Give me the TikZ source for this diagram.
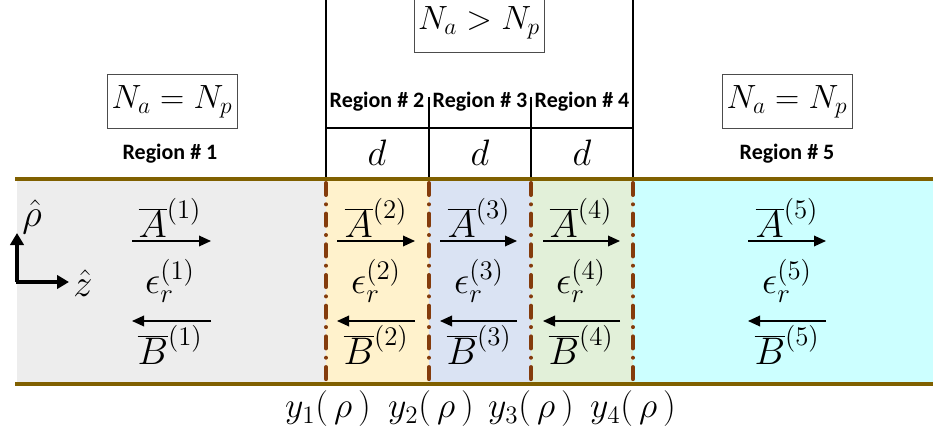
\RequirePackage{fix-cm}
\documentclass[tikz,border=0pt]{standalone}
\usepackage{fontspec}
\newfontfamily\regfont{Carlito}
\usetikzlibrary{arrows.meta}
\definecolor{rgray}{HTML}{EDEDED}
\definecolor{ryellow}{HTML}{FFF2CC}
\definecolor{rblue}{HTML}{DAE3F3}
\definecolor{rgreen}{HTML}{E2F0D9}
\definecolor{rcyan}{HTML}{CCFFFF}
\definecolor{bandcol}{HTML}{806000}
\definecolor{ifacecol}{HTML}{843C0C}
\newcommand{\fldm}[2]{\scalebox{#1}{$#2$}}
\begin{document}
\begin{tikzpicture}[x=0.75pt,y=-0.75pt,
  band/.style={draw=bandcol,line width=3pt},
  iface/.style={draw=ifacecol,line width=3pt,line cap=round,dash pattern=on 9pt off 7pt on 0.01pt off 7pt},
  struct/.style={draw=black,line width=1.5pt},
  eqbox/.style={draw=black!70,line width=0.7pt,minimum width=97.5pt,minimum height=41pt,inner sep=0pt,font=\fontsize{24}{28}\selectfont},
  reglabel/.style={font=\regfont\bfseries\fontsize{16.5}{18}\selectfont,inner sep=0pt},
  dlabel/.style={font=\fontsize{24}{28}\selectfont,inner sep=0pt},
  fieldlbl/.style={font=\fontsize{24}{28}\selectfont,inner sep=0pt},
  fieldarrow/.style={draw=black,line width=1pt,-{Triangle[length=9pt,width=8pt]}},
  axisarrow/.style={draw=black,line width=2.4pt,-{Triangle[length=9pt,width=10pt]}}
]
\useasboundingbox (0,0) rectangle (933,435);
% region fills
\fill[rgray] (17,179) rectangle (326,384);
\fill[ryellow] (326,179) rectangle (429,384);
\fill[rblue] (429,179) rectangle (531,384);
\fill[rgreen] (531,179) rectangle (633,384);
\fill[rcyan] (633,179) rectangle (933,384);
% band lines
\coordinate (bl1) at (15,179); \coordinate (br1) at (933,179);
\coordinate (bl2) at (15,384); \coordinate (br2) at (933,384);
\draw[band] (bl1) -- (br1);
\draw[band] (bl2) -- (br2);
% interfaces
\foreach \i/\x in {1/326,2/429,3/531,4/633}{
  \coordinate (it\i) at (\x,183);
  \coordinate (ib\i) at (\x,381);
  \draw[iface] (it\i) -- (ib\i);
}
% structure lines
\coordinate (s1t) at (326,-2); \coordinate (s1b) at (326,177);
\coordinate (s4t) at (633,-2); \coordinate (s4b) at (633,177);
\coordinate (s2t) at (429,97); \coordinate (s2b) at (429,177);
\coordinate (s3t) at (531,97); \coordinate (s3b) at (531,177);
\coordinate (hl) at (326,128); \coordinate (hr) at (633,128);
\draw[struct] (s1t) -- (s1b);
\draw[struct] (s4t) -- (s4b);
\draw[struct] (s2t) -- (s2b);
\draw[struct] (s3t) -- (s3b);
\draw[struct] (hl) -- (hr);
% boxes
\node[eqbox] (box1) at (172,101.5) {\fldm{1.05}{N_a = N_p}};
\node[eqbox] (box5) at (787,101.5) {\fldm{1.05}{N_a = N_p}};
\node[eqbox,minimum height=44pt] (boxm) at (479,23) {\fldm{1.05}{N_a > N_p}};
% region labels
\node[reglabel] (r1) at (170,154) {Region \# 1};
\node[reglabel] (r2) at (377,102) {Region \# 2};
\node[reglabel] (r3) at (480,102) {Region \# 3};
\node[reglabel] (r4) at (582,102) {Region \# 4};
\node[reglabel] (r5) at (787,154) {Region \# 5};
% d labels
\node[dlabel] (d2) at (377,153) {\fldm{1.15}{d}};
\node[dlabel] (d3) at (480,153) {\fldm{1.15}{d}};
\node[dlabel] (d4) at (582,153) {\fldm{1.15}{d}};
% fields
\foreach \n/\xa/\xb/\xc in {1/132/211/170,2/337/415/376,3/440/517/479,4/543/620/581,5/748/826/787}{
  \node[fieldlbl] (A\n) at (\xc,218) {\fldm{1.2}{\overline{A}^{(\n)}}};
  \node[fieldlbl] (E\n) at (\xc,281) {\fldm{1.2}{\epsilon_r^{(\n)}}};
  \node[fieldlbl] (B\n) at (\xc,345) {\fldm{1.2}{\overline{B}^{(\n)}}};
  \coordinate (as\n) at (\xa,241); \coordinate (ae\n) at (\xb,241);
  \coordinate (bs\n) at (\xb,321); \coordinate (be\n) at (\xa,321);
  \draw[fieldarrow] (as\n) -- (ae\n);
  \draw[fieldarrow] (bs\n) -- (be\n);
}
% axes
\coordinate (o) at (17,282);
\coordinate (rhot) at (17,233);
\coordinate (zt) at (69,282);
\draw[axisarrow] (o) -- (rhot);
\draw[axisarrow] ([xshift=-0.9pt]o) -- (zt);
\node[fieldlbl] (rholbl) at (32,217) {\fldm{1.2}{\hat{\rho}}};
\node[fieldlbl] (zlbl) at (83,283) {\fldm{1.2}{\hat{z}}};
% bottom labels
\node[fieldlbl] (y1) at (328,409) {\fldm{1.12}{y_1\big(\,\rho\,\big)}};
\node[fieldlbl] (y2) at (431,409) {\fldm{1.12}{y_2\big(\,\rho\,\big)}};
\node[fieldlbl] (y3) at (531,409) {\fldm{1.12}{y_3\big(\,\rho\,\big)}};
\node[fieldlbl] (y4) at (633,409) {\fldm{1.12}{y_4\big(\,\rho\,\big)}};
\end{tikzpicture}
\end{document}
